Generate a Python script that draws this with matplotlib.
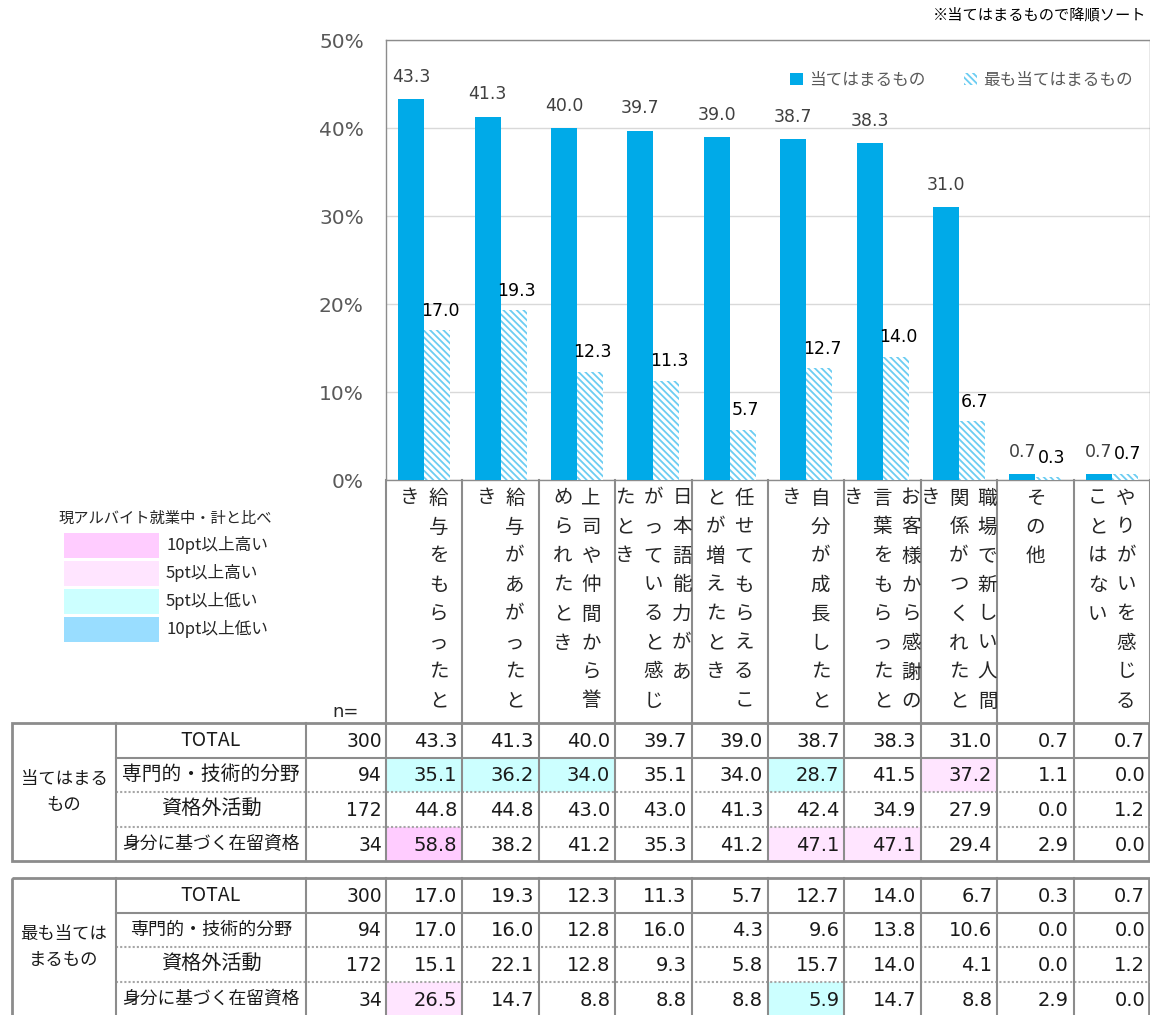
import numpy as np
import matplotlib.pyplot as plt
from matplotlib.patches import Rectangle, Patch

plt.rcParams["font.family"] = ["DejaVu Sans", "Noto Sans CJK JP"]
plt.rcParams["hatch.linewidth"] = 1.3
JP = ["Noto Sans CJK JP", "DejaVu Sans"]

# ---- data ----
categories = [
    "給与をもらったとき",
    "給与があがったとき",
    "上司や仲間から誉められたとき",
    "日本語能力があがっていると感じたとき",
    "任せてもらえることが増えたとき",
    "自分が成長したとき",
    "お客様から感謝の言葉をもらったとき",
    "職場で新しい人間関係がつくれたとき",
    "その他",
    "やりがいを感じることはない",
]
series_names = ["当てはまるもの", "最も当てはまるもの"]
main_vals = [43.3, 41.3, 40.0, 39.7, 39.0, 38.7, 38.3, 31.0, 0.7, 0.7]
most_vals = [17.0, 19.3, 12.3, 11.3, 5.7, 12.7, 14.0, 6.7, 0.3, 0.7]
yticks = [0, 10, 20, 30, 40, 50]

row_labels = ["TOTAL", "専門的・技術的分野", "資格外活動", "身分に基づく在留資格"]
n_values = [300, 94, 172, 34]
group_labels = ["当てはまる\nもの", "最も当ては\nまるもの"]
main_table = [
    [43.3, 41.3, 40.0, 39.7, 39.0, 38.7, 38.3, 31.0, 0.7, 0.7],
    [35.1, 36.2, 34.0, 35.1, 34.0, 28.7, 41.5, 37.2, 1.1, 0.0],
    [44.8, 44.8, 43.0, 43.0, 41.3, 42.4, 34.9, 27.9, 0.0, 1.2],
    [58.8, 38.2, 41.2, 35.3, 41.2, 47.1, 47.1, 29.4, 2.9, 0.0],
]
most_table = [
    [17.0, 19.3, 12.3, 11.3, 5.7, 12.7, 14.0, 6.7, 0.3, 0.7],
    [17.0, 16.0, 12.8, 16.0, 4.3, 9.6, 13.8, 10.6, 0.0, 0.0],
    [15.1, 22.1, 12.8, 9.3, 5.8, 15.7, 14.0, 4.1, 0.0, 1.2],
    [26.5, 14.7, 8.8, 8.8, 8.8, 5.9, 14.7, 8.8, 2.9, 0.0],
]
key_title = "現アルバイト就業中・計と比べ"
key_labels = ["10pt以上高い", "5pt以上高い", "5pt以上低い", "10pt以上低い"]
note = "※当てはまるもので降順ソート"

BLUE = "#00AAE8"
HATCH = "#6CCDF2"
GRID = "#D9D9D9"
LINE = "#8C8C8C"
GRAY_TXT = "#595959"
KEY_COLORS = ["#FFCCFF", "#FFE5FF", "#CCFFFF", "#99DDFF"]


def level_color(v, base):
    d = round(v - base, 1)
    if d > 10:
        return KEY_COLORS[0]
    if d > 5:
        return KEY_COLORS[1]
    if d < -10:
        return KEY_COLORS[3]
    if d < -5:
        return KEY_COLORS[2]
    return None


def wrap_vertical(text, per_col=8):
    # excel-like vertical wrap, small kana can't start a column
    cols = []
    rest = text
    while rest:
        chunk = rest[:per_col]
        rest = rest[per_col:]
        if rest and rest[0] in "っゃゅょー":
            rest = chunk[-1] + rest
            chunk = chunk[:-1]
        cols.append(chunk)
    return cols


W, H = 1150, 1015
L, R, T, B = 386, 1150, 40, 480

fig = plt.figure(figsize=(W / 100, H / 100), dpi=100)
ax = fig.add_axes([L / W, 1 - B / H, (R - L) / W, (B - T) / H])

x = np.arange(len(categories))
bw = 0.34
ax.bar(x - bw / 2, main_vals, bw, color=BLUE, zorder=3)
ax.bar(x + bw / 2, most_vals, bw, color="white", edgecolor=HATCH,
       hatch="\\\\\\\\\\", linewidth=0, zorder=3)

for xi, v in zip(x, main_vals):
    ax.annotate(f"{v:.1f}", (xi - bw / 2, v), xytext=(0, 16), textcoords="offset points",
                ha="center", va="center", fontsize=12.5, color="#404040")
for xi, v in zip(x, most_vals):
    ax.annotate(f"{v:.1f}", (xi + bw / 2, v), xytext=(2, 14), textcoords="offset points",
                ha="center", va="center", fontsize=12.5, color="black")

ax.set_xlim(-0.5, len(categories) - 0.5)
ax.set_ylim(0, 50)
ax.set_xticks([])
ax.set_yticks(yticks)
ax.set_yticklabels([f"{v}%" for v in yticks], fontsize=14.5, color=GRAY_TXT)
ax.tick_params(axis="y", length=0, pad=16)
ax.yaxis.grid(True, color=GRID, lw=1)
ax.set_axisbelow(True)
for sp in ax.spines.values():
    sp.set_color(LINE)
    sp.set_linewidth(1)

handles = [Patch(facecolor=BLUE, label=series_names[0]),
           Patch(facecolor="white", edgecolor=HATCH, hatch="\\\\\\\\\\", lw=0, label=series_names[1])]
ax.legend(handles=handles, ncol=2, loc="upper right", frameon=False,
          bbox_to_anchor=(1148 / W, 1 - 57 / H), bbox_transform=fig.transFigure,
          prop={"family": JP, "size": 12}, handlelength=0.75, handleheight=0.75,
          handletextpad=0.4, columnspacing=2.3, labelcolor=GRAY_TXT)

fig.text(1146 / W, 1 - 15 / H, note, ha="right", va="center", fontsize=11, family=JP)

# ---- overlay in pixel coordinates for header / table ----
ov = fig.add_axes([0, 0, 1, 1], zorder=5)
ov.set_xlim(0, W)
ov.set_ylim(H, 0)
ov.axis("off")

edges = [ax.transData.transform((i - 0.5, 0))[0] for i in range(len(categories) + 1)]
centers = [(a + b) / 2 for a, b in zip(edges[:-1], edges[1:])]

TAB1, TAB2 = 723, 878
rh = 34.6
head_bottom = TAB1

# category header (vertical text)
for xc, cat in zip(centers, categories):
    cols = wrap_vertical(cat)
    n = len(cols)
    for j, col in enumerate(cols):
        cx = xc + (n - 1) / 2 * 28.5 - j * 28.5
        for k, ch in enumerate(col):
            ov.text(cx, 498 + k * 29, ch, ha="center", va="center", fontsize=14,
                    color="#262626", family=JP)
for e in edges:
    ov.plot([e, e], [B, head_bottom], color=LINE, lw=1.5)
ov.text(346, 712, "n=", ha="center", va="center", fontsize=13, color="#262626")

# colour key
ov.text(165, 518, key_title, ha="center", va="center", fontsize=11, color="#262626", family=JP)
for i, (c, lab) in enumerate(zip(KEY_COLORS, key_labels)):
    y = 533 + i * 28
    ov.add_patch(Rectangle((64, y), 95, 25, facecolor=c, edgecolor="none"))
    ov.text(166, y + 12.5, lab, ha="left", va="center", fontsize=12, color="#262626", family=JP)


def draw_table(y0, group, table, label_sizes):
    xl, xg, xr, xn = 12, 116, 306, 386
    base = table[0]
    y_end = y0 + rh * len(table)
    for r, (lab, n, row, fs) in enumerate(zip(row_labels, n_values, table, label_sizes)):
        y = y0 + r * rh
        yc = y + rh / 2
        for c, v in enumerate(row):
            col = level_color(v, base[c]) if r > 0 else None
            if col:
                ov.add_patch(Rectangle((edges[c], y), edges[c + 1] - edges[c], rh,
                                       facecolor=col, edgecolor="none"))
            ov.text(edges[c + 1] - 5, yc + 1, f"{v:.1f}", ha="right", va="center",
                    fontsize=14, color="#1a1a1a")
        ov.text((xg + xr) / 2, yc, lab, ha="center", va="center", fontsize=fs,
                color="#1a1a1a", family=JP)
        ov.text(xn - 4, yc + 1, str(n), ha="right", va="center", fontsize=13.5, color="#1a1a1a")
        if r == 1:
            ov.plot([xg, W], [y, y], color=LINE, lw=1.5)
        elif r > 1:
            ov.plot([xg, W], [y, y], color="#A6A6A6", lw=1.5, ls=(0, (1, 1)))
    ov.text((xl + xg) / 2, y0 + rh * 2, group, ha="center", va="center", fontsize=12.5,
            color="#1a1a1a", linespacing=1.55, family=JP)
    for e in [xg, xr, xn] + edges[1:-1]:
        ov.plot([e, e], [y0, y_end], color=LINE, lw=1.5)
    ov.add_patch(Rectangle((xl, y0), W - 1 - xl, y_end - y0, facecolor="none",
                           edgecolor=LINE, lw=2))


draw_table(TAB1, group_labels[0], main_table, [14, 14.2, 14.5, 12.8])
draw_table(TAB2, group_labels[1], most_table, [14, 13, 14.5, 12.8])

fig.savefig("out.png", dpi=100)
